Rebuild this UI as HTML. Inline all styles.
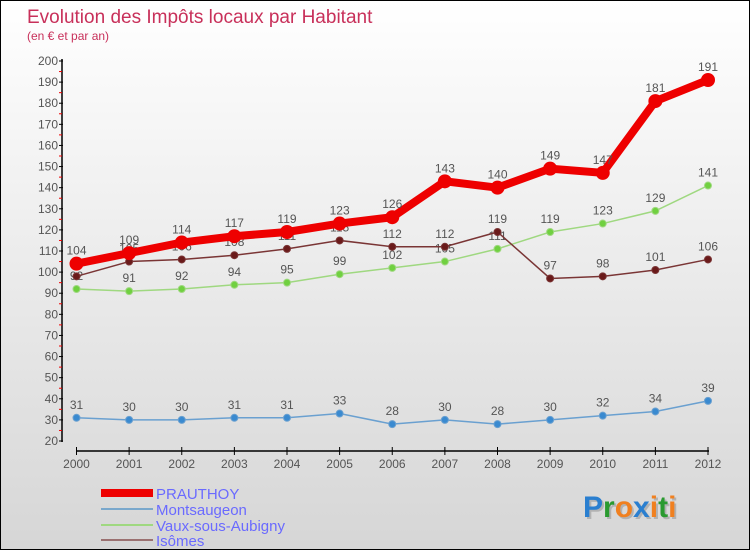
<!DOCTYPE html>
<html><head><meta charset="utf-8"><style>
body{margin:0}
#c{width:750px;height:550px;position:relative;overflow:hidden;background:linear-gradient(#fff,#d6d6d6);box-sizing:border-box;border:1px solid #000;font-family:"Liberation Sans",sans-serif}
svg{position:absolute;left:0;top:0}
</style></head><body>
<div id="c">
<svg id="s" width="750" height="550">
<text x="26" y="22" font-size="19" fill="#c8305a">Evolution des Impôts locaux par Habitant</text>
<text x="26" y="39" font-size="12" fill="#c8305a">(en € et par an)</text>
<g>
<rect x="100" y="488" width="52" height="8" fill="#e00"/>
<text x="155" y="498" font-size="15" fill="#6a6aff">PRAUTHOY</text>
<rect x="100" y="507" width="52" height="2" fill="#7aa8cc"/>
<text x="155" y="514" font-size="15" fill="#6a6aff">Montsaugeon</text>
<rect x="100" y="523" width="52" height="2" fill="#9fd880"/>
<text x="155" y="530" font-size="15" fill="#6a6aff">Vaux-sous-Aubigny</text>
<rect x="100" y="538" width="52" height="2" fill="#9a7070"/>
<text x="155" y="545" font-size="15" fill="#6a6aff">Isômes</text>
</g>
<g font-size="30" font-weight="bold">
<text x="584" y="518" fill="#999" opacity="0.6"><tspan>Proxiti</tspan></text>
<text x="582" y="516"><tspan fill="#2a7fd0">P</tspan><tspan fill="#2a9a30">r</tspan><tspan fill="#f08020">o</tspan><tspan fill="#2a7fd0">x</tspan><tspan fill="#f08020">i</tspan><tspan fill="#2a9a30">t</tspan><tspan fill="#f08020">i</tspan></text>
</g>
</svg>
</div>
<script>
const years=[2000,2001,2002,2003,2004,2005,2006,2007,2008,2009,2010,2011,2012];
const yTicks=[20,30,40,50,60,70,80,90,100,110,120,130,140,150,160,170,180,190,200];
const prauthoy=[104,109,114,117,119,123,126,143,140,149,147,181,191];
const montsaugeon=[31,30,30,31,31,33,28,30,28,30,32,34,39];
const vaux=[92,91,92,94,95,99,102,105,111,119,123,129,141];
const isomes=[98,105,106,108,111,115,112,112,119,97,98,101,106];
const NS="http://www.w3.org/2000/svg";
const svg=document.getElementById('s');
const X=i=>75.5+i*(707-75.5)/(years.length-1);
const Y=v=>440-(v-20)*(380/180);
function mk(t,a,p){const e=document.createElementNS(NS,t);for(const k in a)e.setAttribute(k,a[k]);(p||svg).appendChild(e);return e;}
const ax=mk('g',{});


mk('line',{x1:61,y1:58,x2:61,y2:441,stroke:'#000','stroke-width':1.5},ax);
mk('line',{x1:75,y1:450,x2:708,y2:450,stroke:'#000','stroke-width':1.5},ax);
yTicks.forEach(v=>{
 mk('line',{x1:58,y1:Y(v),x2:62,y2:Y(v),stroke:'#000'},ax);
 if(v<200) mk('line',{x1:58,y1:Y(v+5),x2:61,y2:Y(v+5),stroke:'#e00'},ax);
 const t=mk('text',{x:57,y:Y(v)+4,'text-anchor':'end','font-size':12,fill:'#555'},ax);
 
 
 t.textContent=v;
});
years.forEach((y,i)=>{
 mk('line',{x1:X(i),y1:446,x2:X(i),y2:454,stroke:'#000'},ax);
 const t=mk('text',{x:X(i),y:467,'text-anchor':'middle','font-size':12,fill:'#555'},ax);
 
 
 t.textContent=y;
});
function series(name,vals,color,lw,r,fill){
 const g=mk('g',{});
 
 
 const pl=mk('polyline',{points:vals.map((v,i)=>X(i)+','+Y(v)).join(' '),fill:'none',stroke:color,'stroke-width':lw},g);
 
 
 vals.forEach((v,i)=>{
  const c=mk('circle',{cx:X(i),cy:Y(v),r:r,fill:fill,stroke:color,'stroke-width':1},g);
  
  
  const t=mk('text',{x:X(i),y:Y(v)-9,'text-anchor':'middle','font-size':12,fill:'#555'},g);
  
  
  t.textContent=v;
 });
}
series('montsaugeon',montsaugeon,'#6aa0d0',1.5,3.5,'#3a8ad0');
series('vaux',vaux,'#9fd880',1.5,3.5,'#70d040');
series('isomes',isomes,'#7a3535',1.5,3.5,'#6a1a1a');
series('prauthoy',prauthoy,'#ee0000',8,6.5,'#ee0000');
</script>
</body></html>
